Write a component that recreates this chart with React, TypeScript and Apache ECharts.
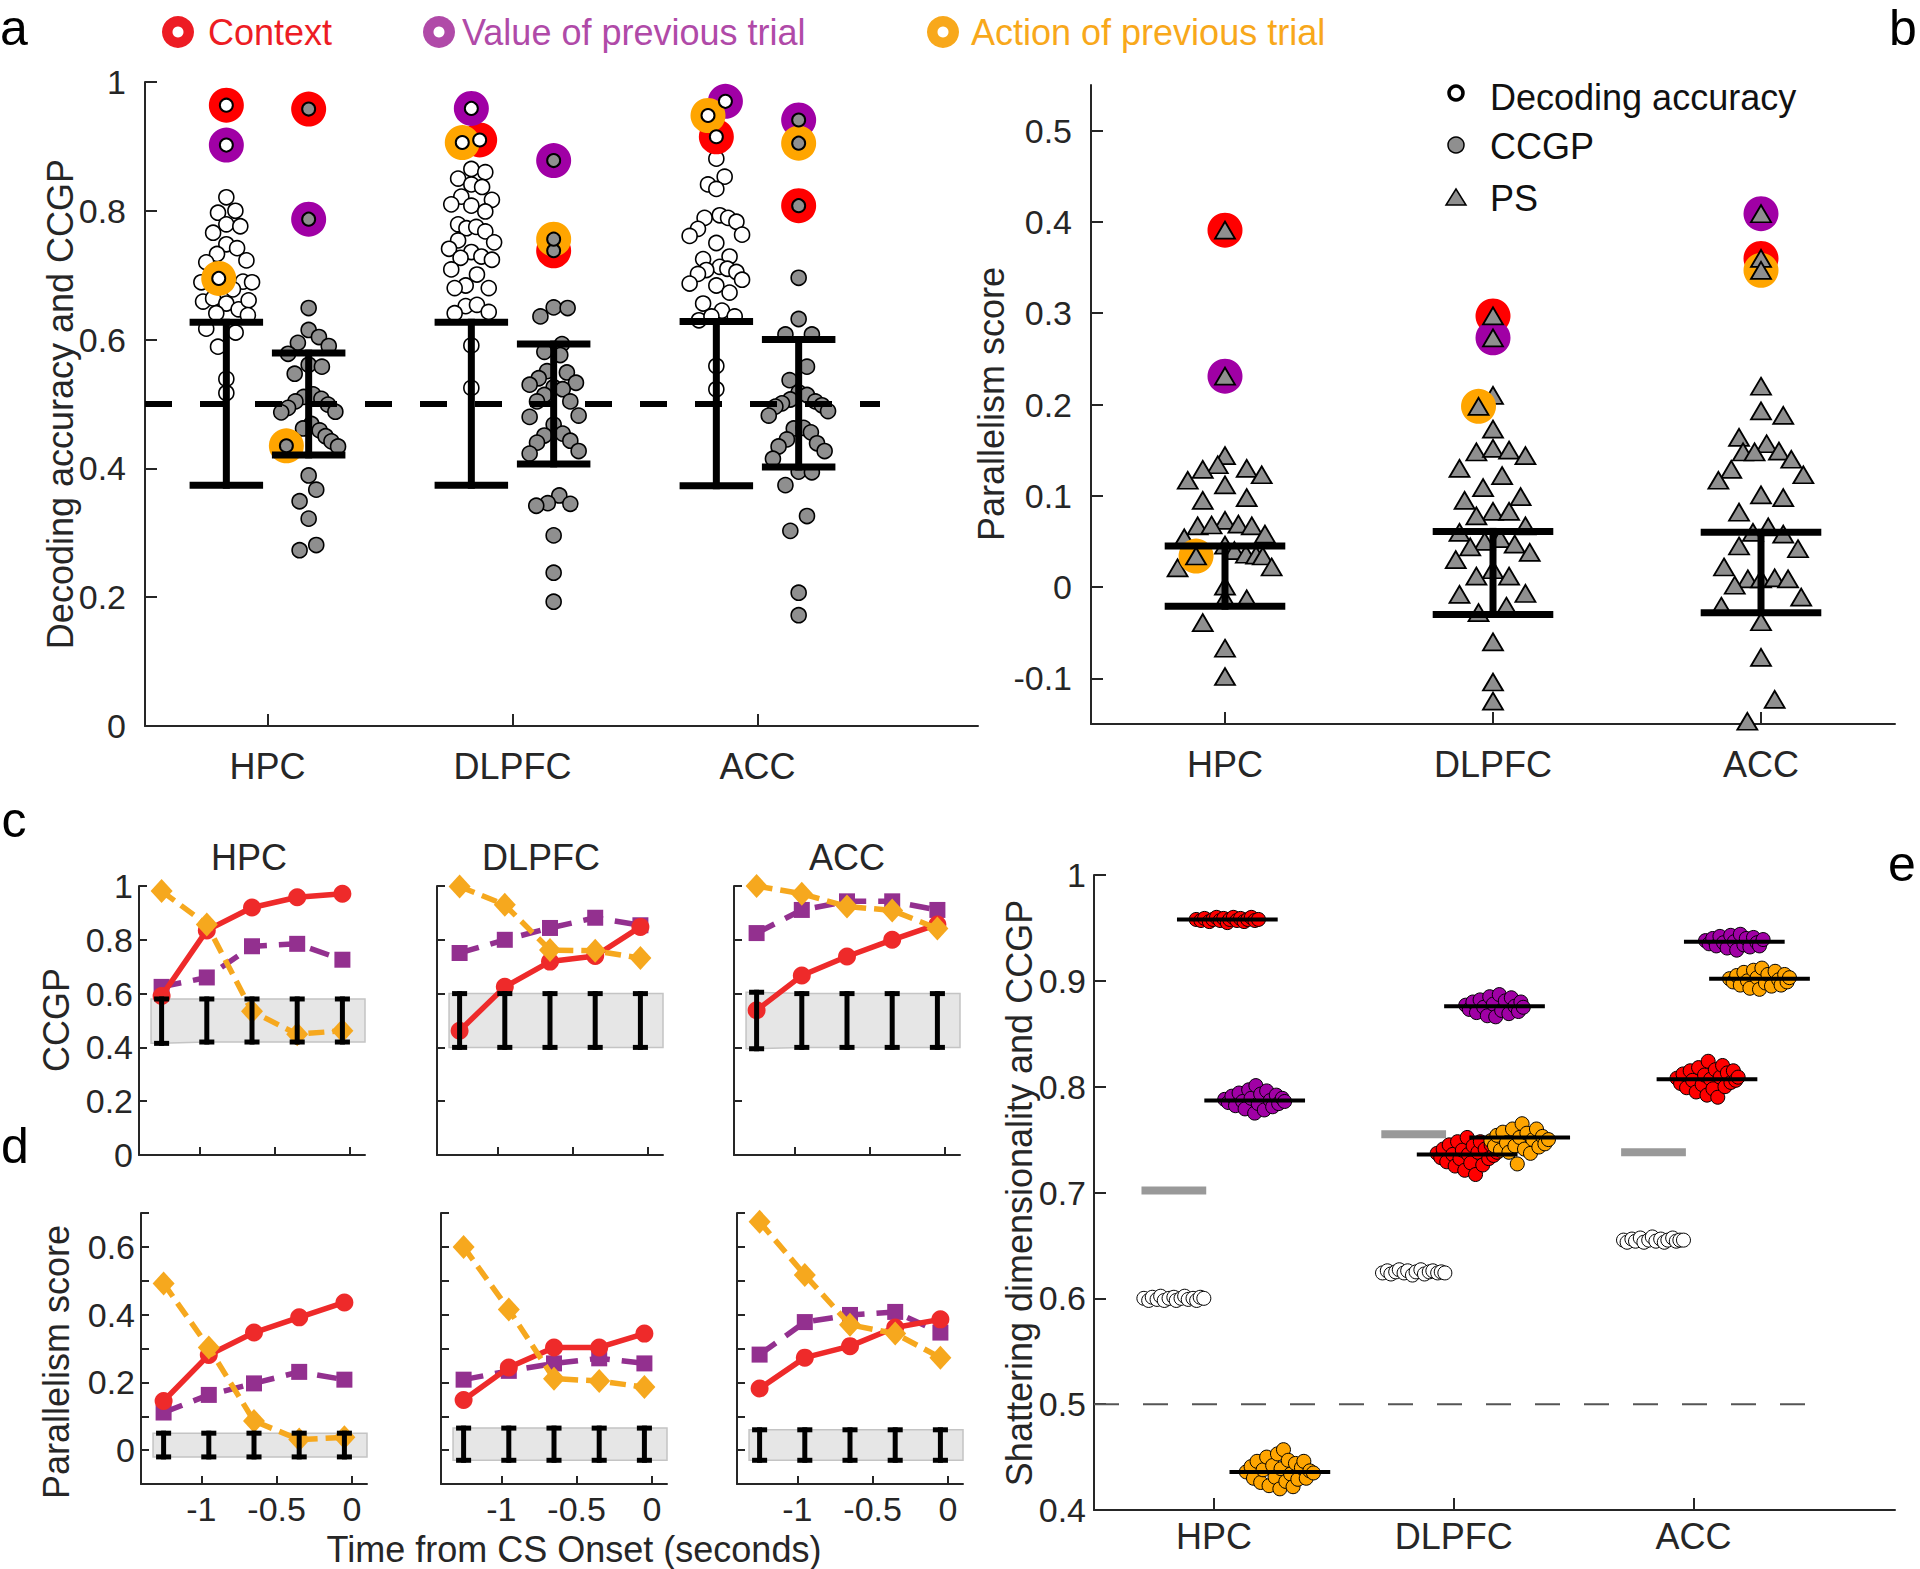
import React, { useEffect, useRef } from "react";
import * as echarts from "echarts";

const regions = ["HPC", "DLPFC", "ACC"];

// ---------- panel a: individual dichotomies, [offset within column, value]
const aDecHPC = [[0,0.821],[-0.034,0.797],[0.037,0.800],[0,0.779],[0.057,0.776],[-0.054,0.766],[0,0.748],[0.044,0.742],[-0.038,0.733],[-0.082,0.720],[0.082,0.723],[-0.102,0.689],[0.068,0.690],[0.105,0.689],[0.027,0.678],[-0.095,0.659],[-0.054,0.664],[0,0.656],[0.05,0.647],[0.091,0.661],[-0.041,0.641],[0.088,0.638],[-0.082,0.617],[0.038,0.611],[-0.034,0.589],[0,0.539],[0,0.517]];
const aDecDLPFC = [[0,0.865],[0.057,0.860],[-0.054,0.850],[0,0.841],[0.044,0.837],[-0.041,0.822],[0.084,0.817],[-0.082,0.810],[0,0.808],[0.057,0.799],[-0.054,0.779],[-0.02,0.773],[0.02,0.775],[0.057,0.768],[-0.054,0.754],[0.093,0.751],[-0.091,0.741],[0,0.736],[0.041,0.729],[-0.044,0.727],[0.084,0.724],[-0.082,0.709],[0.023,0.701],[-0.023,0.684],[-0.068,0.680],[0.071,0.680],[-0.023,0.652],[0.023,0.654],[-0.068,0.641],[0.071,0.643],[0,0.591],[0,0.525]];
const aDecACC = [[0,0.881],[0.034,0.853],[-0.034,0.841],[0,0.834],[0.014,0.793],[-0.048,0.789],[0.048,0.789],[0.082,0.783],[-0.075,0.772],[-0.109,0.761],[0.105,0.763],[0,0.750],[-0.054,0.725],[0.054,0.729],[0.014,0.713],[-0.041,0.708],[0.045,0.710],[0.082,0.705],[-0.075,0.702],[0.105,0.693],[-0.109,0.687],[0,0.684],[0.054,0.673],[-0.054,0.656],[0.023,0.645],[-0.071,0.630],[-0.02,0.636],[0.075,0.636],[0,0.559],[0,0.523]];
const aCcgpHPC = [[0,0.649],[0,0.615],[0.042,0.604],[-0.044,0.595],[0.082,0.590],[-0.084,0.578],[0,0.561],[0.054,0.558],[-0.057,0.547],[0.018,0.515],[-0.02,0.511],[0.052,0.508],[-0.054,0.504],[0.079,0.499],[-0.084,0.494],[0.109,0.488],[-0.112,0.487],[0.011,0.469],[-0.023,0.462],[0.045,0.459],[0.069,0.450],[0.093,0.442],[0.12,0.434],[0,0.389],[0.031,0.367],[-0.037,0.349],[0,0.322],[-0.037,0.273],[0.031,0.281]];
const aCcgpDLPFC = [[-0.054,0.636],[0,0.650],[0.057,0.649],[0.034,0.593],[-0.038,0.581],[0.027,0.576],[-0.027,0.551],[0.054,0.549],[-0.061,0.540],[-0.098,0.530],[0.091,0.533],[0,0.526],[0.037,0.523],[-0.038,0.514],[-0.068,0.504],[0.068,0.504],[-0.098,0.480],[0.102,0.482],[0,0.468],[0.037,0.454],[-0.038,0.451],[0.068,0.443],[-0.068,0.440],[0.102,0.427],[-0.098,0.423],[0.023,0.358],[-0.024,0.346],[0.068,0.345],[-0.071,0.342],[0,0.296],[0,0.238],[0,0.193]];
const aCcgpACC = [[0,0.696],[0,0.632],[-0.054,0.608],[0.054,0.608],[0.034,0.558],[-0.037,0.537],[0,0.518],[0.034,0.514],[-0.034,0.507],[-0.068,0.501],[-0.095,0.496],[0.068,0.504],[0.095,0.498],[-0.122,0.482],[0.12,0.489],[-0.02,0.462],[0.02,0.463],[0.05,0.456],[-0.048,0.445],[0.075,0.439],[-0.082,0.434],[0.106,0.427],[-0.105,0.415],[0,0.395],[0.054,0.394],[-0.054,0.374],[0.034,0.326],[-0.034,0.303],[0,0.207],[0,0.172]];
// highlighted variables, one entry per region (HPC, DLPFC, ACC)
const aDecContext = [[0,0.964],[0.034,0.910],[0,0.915]];
const aDecValue = [[0,0.902],[0,0.959],[0.037,0.970]];
const aDecAction = [[-0.031,0.695],[-0.037,0.906],[-0.034,0.948]];
const aCcgpContext = [[0,0.958],[0,0.738],[0,0.808]];
const aCcgpValue = [[0,0.787],[0,0.878],[0,0.941]];
const aCcgpAction = [[-0.091,0.435],[0,0.756],[0,0.905]];
const aDecNullLow = [0.374, 0.374, 0.373];
const aDecNullHigh = [0.627, 0.627, 0.628];
const aCcgpNullLow = [0.421, 0.407, 0.402];
const aCcgpNullHigh = [0.579, 0.593, 0.600];

// ---------- panel b: parallelism score
const bPsHPC = [[0,0.144],[-0.027,0.134],[-0.083,0.129],[0.081,0.130],[0.137,0.123],[-0.139,0.117],[0,0.112],[-0.083,0.095],[0.081,0.098],[0,0.073],[-0.102,0.067],[-0.05,0.068],[0.05,0.069],[0.1,0.067],[0.149,0.058],[-0.152,0.054],[0,0.046],[0.035,0.040],[0.078,0.036],[0.116,0.035],[0.141,0.034],[-0.177,0.021],[0.174,0.022],[0,0.001],[0,-0.013],[0.081,-0.013],[-0.083,-0.039],[0,-0.067],[0,-0.098]];
const bPsDLPFC = [[0,0.210],[0,0.173],[-0.062,0.148],[0,0.152],[0.06,0.150],[0.121,0.144],[-0.125,0.130],[0.034,0.122],[-0.037,0.109],[-0.106,0.095],[0.103,0.099],[0,0.083],[0.06,0.083],[-0.062,0.078],[0.121,0.067],[-0.125,0.060],[0.027,0.053],[-0.031,0.050],[0.081,0.047],[-0.085,0.044],[0.137,0.038],[-0.139,0.030],[0,0.019],[-0.062,0.012],[0.06,0.012],[-0.125,-0.008],[0.121,-0.007],[0.05,-0.021],[-0.054,-0.028],[0,-0.060],[0,-0.104],[0,-0.125]];
const bPsACC = [[0,0.220],[0,0.193],[0.083,0.188],[-0.082,0.164],[0.021,0.157],[-0.067,0.148],[-0.024,0.148],[0.067,0.149],[0.113,0.140],[-0.111,0.129],[-0.159,0.117],[0.158,0.123],[0,0.101],[0.083,0.098],[-0.082,0.082],[-0.03,0.060],[0.027,0.066],[0.083,0.058],[-0.082,0.045],[0.138,0.042],[-0.138,0.022],[-0.049,0.009],[0,0.009],[0.051,0.010],[0.101,0.009],[-0.098,0.002],[0.15,-0.011],[-0.148,-0.021],[0,-0.038],[0,-0.077],[0.051,-0.123],[-0.051,-0.147]];
const bContext = [[0,0.391],[0,0.297],[0,0.360]];
const bValue = [[0,0.231],[0,0.273],[0,0.409]];
const bAction = [[-0.108,0.034],[-0.054,0.198],[0,0.347]];
const bNullLow = [-0.021, -0.030, -0.028];
const bNullHigh = [0.045, 0.061, 0.060];

// ---------- panels c, d: time course
const timePoints = [-1.25, -0.95, -0.65, -0.35, -0.05];
const cContext = [[0.591,0.835,0.920,0.958,0.971],[0.462,0.625,0.719,0.740,0.848],[0.538,0.667,0.738,0.800,0.857]];
const cValue = [[0.625,0.660,0.776,0.785,0.726],[0.751,0.800,0.844,0.882,0.854],[0.825,0.911,0.943,0.943,0.911]];
const cAction = [[0.981,0.857,0.534,0.449,0.462],[0.998,0.930,0.762,0.759,0.732],[1.0,0.971,0.924,0.909,0.842]];
const cNullHigh = [[0.58,0.58,0.58,0.58,0.58],[0.6,0.6,0.6,0.6,0.6],[0.605,0.6,0.6,0.6,0.6]];
const cNullLow = [[0.415,0.42,0.42,0.42,0.42],[0.4,0.4,0.4,0.4,0.4],[0.395,0.4,0.4,0.4,0.4]];
const dContext = [[0.145,0.281,0.347,0.392,0.436],[0.148,0.244,0.303,0.303,0.344],[0.182,0.273,0.307,0.362,0.386]];
const dValue = [[0.111,0.163,0.197,0.231,0.208],[0.208,0.234,0.256,0.271,0.256],[0.282,0.378,0.399,0.408,0.347]];
const dAction = [[0.492,0.303,0.086,0.031,0.038],[0.600,0.415,0.211,0.204,0.186],[0.674,0.517,0.370,0.344,0.273]];
const dNullHigh = [[0.05,0.05,0.05,0.05,0.05],[0.065,0.065,0.065,0.065,0.065],[0.06,0.06,0.06,0.06,0.06]];
const dNullLow = [[-0.02,-0.02,-0.02,-0.02,-0.02],[-0.03,-0.03,-0.03,-0.03,-0.03],[-0.03,-0.03,-0.03,-0.03,-0.03]];

// ---------- panel e: shattering dimensionality (white) and CCGP clusters, [offset within cluster, value]
const eSdHPC = [[-0.125,0.600],[-0.105,0.598],[-0.09,0.601],[-0.07,0.599],[-0.055,0.602],[-0.04,0.598],[-0.02,0.600],[0,0.601],[0.01,0.598],[0.03,0.600],[0.045,0.602],[0.06,0.599],[0.08,0.600],[0.095,0.598],[0.11,0.601],[0.125,0.600]];
const eSdDLPFC = [[-0.13,0.624],[-0.11,0.626],[-0.095,0.623],[-0.075,0.625],[-0.06,0.627],[-0.04,0.624],[-0.025,0.626],[-0.005,0.622],[0.01,0.625],[0.03,0.627],[0.045,0.623],[0.065,0.625],[0.08,0.626],[0.1,0.624],[0.115,0.625],[0.13,0.624]];
const eSdACC = [[-0.125,0.655],[-0.11,0.653],[-0.09,0.656],[-0.075,0.654],[-0.055,0.657],[-0.04,0.653],[-0.02,0.655],[-0.005,0.658],[0.01,0.654],[0.03,0.656],[0.045,0.653],[0.06,0.655],[0.08,0.657],[0.095,0.654],[0.11,0.655],[0.125,0.655]];
const eContextHPC = [[-0.13,0.958],[-0.11,0.957],[-0.095,0.959],[-0.075,0.956],[-0.06,0.958],[-0.045,0.960],[-0.03,0.957],[-0.015,0.959],[0,0.955],[0.01,0.958],[0.025,0.960],[0.04,0.957],[0.055,0.959],[0.07,0.956],[0.085,0.958],[0.1,0.960],[0.115,0.957],[0.13,0.958]];
const eContextDLPFC = [[-0.125,0.737],[-0.11,0.733],[-0.1,0.741],[-0.085,0.729],[-0.075,0.745],[-0.06,0.736],[-0.05,0.725],[-0.04,0.748],[-0.03,0.732],[-0.02,0.740],[-0.01,0.721],[0,0.752],[0.005,0.736],[0.015,0.728],[0.025,0.744],[0.035,0.717],[0.045,0.738],[0.055,0.748],[0.065,0.726],[0.075,0.741],[0.09,0.732],[0.1,0.745],[0.11,0.735],[0.125,0.738]];
const eContextACC = [[-0.125,0.808],[-0.11,0.803],[-0.1,0.812],[-0.085,0.799],[-0.07,0.815],[-0.06,0.806],[-0.045,0.795],[-0.035,0.818],[-0.02,0.802],[-0.01,0.811],[0,0.792],[0.005,0.824],[0.015,0.807],[0.025,0.798],[0.035,0.816],[0.045,0.790],[0.055,0.809],[0.065,0.820],[0.075,0.800],[0.085,0.813],[0.1,0.804],[0.11,0.815],[0.12,0.806],[0.13,0.809]];
const eValueHPC = [[-0.125,0.788],[-0.11,0.785],[-0.095,0.791],[-0.08,0.782],[-0.065,0.794],[-0.05,0.786],[-0.04,0.779],[-0.025,0.797],[-0.015,0.789],[0,0.775],[0.005,0.801],[0.015,0.784],[0.025,0.793],[0.04,0.778],[0.05,0.796],[0.065,0.787],[0.075,0.781],[0.09,0.792],[0.1,0.784],[0.115,0.789],[0.125,0.786]];
const eValueDLPFC = [[-0.12,0.877],[-0.105,0.873],[-0.09,0.880],[-0.075,0.870],[-0.06,0.882],[-0.045,0.875],[-0.03,0.867],[-0.02,0.885],[-0.005,0.878],[0.005,0.866],[0.02,0.887],[0.03,0.872],[0.045,0.881],[0.06,0.869],[0.07,0.884],[0.085,0.876],[0.1,0.871],[0.11,0.880],[0.12,0.875]];
const eValueACC = [[-0.12,0.938],[-0.105,0.935],[-0.09,0.940],[-0.075,0.933],[-0.06,0.942],[-0.045,0.936],[-0.03,0.931],[-0.015,0.943],[0,0.937],[0.01,0.929],[0.025,0.944],[0.04,0.934],[0.05,0.940],[0.065,0.932],[0.08,0.941],[0.095,0.936],[0.105,0.933],[0.12,0.939]];
const eActionHPC = [[-0.14,0.436],[-0.12,0.441],[-0.11,0.430],[-0.095,0.446],[-0.08,0.426],[-0.07,0.438],[-0.055,0.450],[-0.045,0.423],[-0.03,0.442],[-0.02,0.431],[-0.01,0.453],[0,0.420],[0.005,0.439],[0.015,0.457],[0.025,0.427],[0.035,0.447],[0.045,0.434],[0.055,0.422],[0.065,0.444],[0.075,0.429],[0.09,0.440],[0.1,0.446],[0.11,0.430],[0.125,0.437],[0.14,0.435]];
const eActionDLPFC = [[-0.12,0.749],[-0.105,0.744],[-0.095,0.754],[-0.08,0.740],[-0.07,0.757],[-0.055,0.747],[-0.045,0.738],[-0.03,0.760],[-0.02,0.744],[-0.01,0.727],[0,0.752],[0.01,0.765],[0.02,0.741],[0.03,0.756],[0.045,0.737],[0.055,0.750],[0.07,0.760],[0.08,0.743],[0.095,0.753],[0.105,0.746],[0.12,0.750]];
const eActionACC = [[-0.125,0.902],[-0.11,0.899],[-0.095,0.905],[-0.08,0.896],[-0.065,0.908],[-0.05,0.900],[-0.04,0.893],[-0.025,0.910],[-0.01,0.903],[0,0.892],[0.01,0.912],[0.025,0.898],[0.035,0.906],[0.05,0.895],[0.065,0.909],[0.08,0.901],[0.09,0.896],[0.105,0.906],[0.115,0.899],[0.125,0.903]];
const eCcgpGray = [0.702, 0.755, 0.738];
const eContextMean = [0.958, 0.736, 0.807];
const eValueMean = [0.787, 0.876, 0.937];
const eActionMean = [0.436, 0.752, 0.902];

// ---------- styling constants
const FONT = '"Liberation Sans", Arial, Helvetica, sans-serif';
const TXT = "#262626";
const RED = "#ff0000";
const PURPLE = "#a000a5";
const ORANGE = "#ffa500";
const GRAY = "#8f8f8f";
const L_RED = "#ee2a2a";
const L_PURPLE = "#93308f";
const L_ORANGE = "#f6a81e";
const OFF_A = 0.168;
const CAP_A = 0.15;
const CAP_B = 0.225;
const CAP_T = 0.05;
const BAND_START = -1.32;
const BAND_END = 0.1;
const E_OFF = { sd: -0.167, context: 0.056, value: 0.17, action: 0.275 };
const E_MEAN_HALF = 0.21;
const E_BAR_HALF = 0.135;

function scatter(gi: number, data: number[][], size: any, fill: string, border: string, bw: number, z: number, symbol = "circle") {
  return {
    type: "scatter", xAxisIndex: gi, yAxisIndex: gi, data, symbol, symbolSize: size,
    itemStyle: { color: fill, borderColor: border, borderWidth: bw, opacity: 1 },
    silent: true, z, clip: false,
  };
}

function errorBars(gi: number, rows: number[][], halfW: number, lw: number, z: number) {
  return {
    type: "custom", xAxisIndex: gi, yAxisIndex: gi, silent: true, z, data: rows,
    encode: { x: 0, y: [1, 2] },
    renderItem: (_p: any, api: any) => {
      const x = api.value(0), lo = api.value(1), hi = api.value(2);
      const b = api.coord([x, lo]);
      const t = api.coord([x, hi]);
      const l = api.coord([x - halfW, lo]);
      const r = api.coord([x + halfW, lo]);
      const h = (r[0] - l[0]) / 2;
      const style = { stroke: "#000", lineWidth: lw };
      return {
        type: "group",
        children: [
          { type: "line", shape: { x1: b[0], y1: b[1] + lw / 2, x2: t[0], y2: t[1] - lw / 2 }, style },
          { type: "line", shape: { x1: b[0] - h, y1: b[1], x2: b[0] + h, y2: b[1] }, style },
          { type: "line", shape: { x1: t[0] - h, y1: t[1], x2: t[0] + h, y2: t[1] }, style },
        ],
      };
    },
  };
}

function hSeg(gi: number, rows: number[][], color: string, lw: number, z: number, dash?: number[]) {
  return {
    type: "custom", xAxisIndex: gi, yAxisIndex: gi, silent: true, z, data: rows,
    encode: { x: [0, 1], y: 2 },
    renderItem: (_p: any, api: any) => {
      const a = api.coord([api.value(0), api.value(2)]);
      const b = api.coord([api.value(1), api.value(2)]);
      return { type: "line", shape: { x1: a[0], y1: a[1], x2: b[0], y2: b[1] }, style: { stroke: color, lineWidth: lw, lineDash: dash || null } };
    },
  };
}

function band(gi: number, lows: number[], highs: number[], z: number) {
  return {
    type: "custom", xAxisIndex: gi, yAxisIndex: gi, silent: true, z,
    data: [[timePoints[0], lows[0], highs[0]]],
    encode: { x: 0, y: [1, 2] },
    renderItem: (_p: any, api: any) => {
      const n = timePoints.length;
      const up = [[BAND_START, highs[0]], ...timePoints.map((t, i) => [t, highs[i]]), [BAND_END, highs[n - 1]]];
      const dn = [[BAND_END, lows[n - 1]], ...timePoints.map((t, i) => [t, lows[i]]).reverse(), [BAND_START, lows[0]]];
      const points = [...up, ...dn].map((p) => api.coord(p));
      return { type: "polygon", shape: { points }, style: { fill: "#e6e6e6", stroke: "#c4c4c4", lineWidth: 1.5 } };
    },
  };
}

function lineSeries(gi: number, vals: number[], color: string, symbol: string, size: any, dash: any, z: number) {
  return {
    type: "line", xAxisIndex: gi, yAxisIndex: gi, silent: true, z, clip: false,
    data: timePoints.map((t, i) => [t, vals[i]]),
    symbol, symbolSize: size, showSymbol: true,
    lineStyle: { color, width: 5.5, type: dash },
    itemStyle: { color, borderWidth: 0 },
  };
}

function txt(text: string, x: number, y: number, o: any = {}) {
  const align = o.align || "center";
  return {
    type: "text", x, y, rotation: o.rot || 0, silent: true, z: 100,
    style: {
      text, fill: o.color || TXT, font: `${o.size || 36}px ${FONT}`,
      textAlign: align, align, textVerticalAlign: "middle", verticalAlign: "middle",
    },
  };
}

function buildOption() {
  const axisLine = { show: true, onZero: false, lineStyle: { color: TXT, width: 2 } };
  const tick = (len = 10) => ({ show: true, inside: true, length: len, lineStyle: { color: TXT, width: 2 } });
  const lab = { color: TXT, fontFamily: FONT, fontSize: 34 };
  const catLab = { color: TXT, fontFamily: FONT, fontSize: 36 };
  const catFmt = (v: number) => regions[Math.round(v) - 1] || "";
  const numFmt = (v: number) => String(Math.round(v * 100) / 100);

  const grid = [
    { left: 145, top: 82, width: 833, height: 644 },
    { left: 1091, top: 85, width: 804, height: 639 },
    { left: 139, top: 886, width: 226, height: 269 },
    { left: 437, top: 886, width: 226, height: 269 },
    { left: 734, top: 886, width: 226, height: 269 },
    { left: 141, top: 1213, width: 226, height: 271 },
    { left: 441, top: 1213, width: 226, height: 271 },
    { left: 737, top: 1213, width: 226, height: 271 },
    { left: 1094, top: 875, width: 801, height: 635 },
  ];

  const xAxis: any[] = [];
  const yAxis: any[] = [];
  const catX = (gi: number, max: number) => ({
    gridIndex: gi, type: "value", min: 0.5, max, axisLine,
    axisTick: { ...tick(12), customValues: [1, 2, 3] },
    axisLabel: { ...catLab, customValues: [1, 2, 3], formatter: catFmt, margin: gi === 8 ? 8 : 22 },
    splitLine: { show: false },
  });
  xAxis.push(catX(0, 3.9));
  xAxis.push(catX(1, 3.5));
  for (let k = 0; k < 6; k++) {
    const gi = 2 + k;
    xAxis.push({
      gridIndex: gi, type: "value", min: -1.4, max: 0.1, axisLine,
      axisTick: { ...tick(8), customValues: [-1, -0.5, 0] },
      axisLabel: { ...lab, show: k >= 3, customValues: [-1, -0.5, 0], formatter: numFmt, margin: 8 },
      splitLine: { show: false },
    });
  }
  xAxis.push(catX(8, 3.84));

  yAxis.push({
    gridIndex: 0, type: "value", min: 0, max: 1, interval: 0.2, axisLine, axisTick: tick(12),
    axisLabel: { ...lab, margin: 19, formatter: numFmt, showMinLabel: true, showMaxLabel: true }, splitLine: { show: false },
  });
  const bTicks = [-0.1, 0, 0.1, 0.2, 0.3, 0.4, 0.5];
  yAxis.push({
    gridIndex: 1, type: "value", min: -0.15, max: 0.55, axisLine,
    axisTick: { ...tick(12), customValues: bTicks },
    axisLabel: { ...lab, margin: 19, customValues: bTicks, formatter: numFmt }, splitLine: { show: false },
  });
  for (let k = 0; k < 3; k++) {
    yAxis.push({
      gridIndex: 2 + k, type: "value", min: 0, max: 1, interval: 0.2, axisLine, axisTick: tick(8),
      axisLabel: { ...lab, show: k === 0, margin: 6, formatter: numFmt, showMinLabel: true, showMaxLabel: true }, splitLine: { show: false },
    });
  }
  for (let k = 0; k < 3; k++) {
    yAxis.push({
      gridIndex: 5 + k, type: "value", min: -0.1, max: 0.7, interval: 0.1, axisLine, axisTick: tick(8),
      axisLabel: {
        ...lab, show: k === 0, margin: 6, showMinLabel: true, showMaxLabel: true,
        formatter: (v: number) => { const q = Math.round(v * 10); return q >= 0 && q % 2 === 0 ? String(q / 10) : ""; },
      },
      splitLine: { show: false },
    });
  }
  yAxis.push({
    gridIndex: 8, type: "value", min: 0.4, max: 1, interval: 0.1, axisLine, axisTick: tick(12),
    axisLabel: { ...lab, margin: 8, formatter: numFmt, showMinLabel: true, showMaxLabel: true }, splitLine: { show: false },
  });

  const series: any[] = [];

  // ----- panel a
  const place = (lists: number[][][], off: number) =>
    lists.flatMap((arr, r) => arr.map(([d, v]) => [r + 1 + off + d, v]));
  const placeOne = (arr: number[][], off: number) => arr.map(([d, v], r) => [r + 1 + off + d, v]);
  series.push(scatter(0, place([aDecHPC, aDecDLPFC, aDecACC], -OFF_A), 15, "#ffffff", "#000", 1.6, 2));
  series.push(scatter(0, place([aCcgpHPC, aCcgpDLPFC, aCcgpACC], OFF_A), 15, GRAY, "#000", 1.6, 2));
  series.push(scatter(0, [...placeOne(aDecContext, -OFF_A), ...placeOne(aCcgpContext, OFF_A)], 35, RED, RED, 0, 3));
  series.push(scatter(0, [...placeOne(aDecValue, -OFF_A), ...placeOne(aCcgpValue, OFF_A)], 35, PURPLE, PURPLE, 0, 3));
  series.push(scatter(0, [...placeOne(aDecAction, -OFF_A), ...placeOne(aCcgpAction, OFF_A)], 35, ORANGE, ORANGE, 0, 3));
  series.push(scatter(0, [...placeOne(aDecContext, -OFF_A), ...placeOne(aDecValue, -OFF_A), ...placeOne(aDecAction, -OFF_A)], 13, "#ffffff", "#000", 2, 4));
  series.push(scatter(0, [...placeOne(aCcgpContext, OFF_A), ...placeOne(aCcgpValue, OFF_A), ...placeOne(aCcgpAction, OFF_A)], 13, GRAY, "#000", 2, 4));
  series.push(errorBars(0, regions.map((_, r) => [r + 1 - OFF_A, aDecNullLow[r], aDecNullHigh[r]]), CAP_A, 7, 5));
  series.push(errorBars(0, regions.map((_, r) => [r + 1 + OFF_A, aCcgpNullLow[r], aCcgpNullHigh[r]]), CAP_A, 7, 5));
  series.push(hSeg(0, [[0.5, 3.5, 0.5]], "#000", 6, 6, [27, 28]));

  // ----- panel b
  const tri = [20, 17];
  series.push(scatter(1, place([bPsHPC, bPsDLPFC, bPsACC], 0), tri, GRAY, "#000", 1.8, 2, "triangle"));
  series.push(scatter(1, placeOne(bContext, 0), 35, RED, RED, 0, 3));
  series.push(scatter(1, placeOne(bValue, 0), 35, PURPLE, PURPLE, 0, 3));
  series.push(scatter(1, placeOne(bAction, 0), 35, ORANGE, ORANGE, 0, 3));
  series.push(scatter(1, [...placeOne(bContext, 0), ...placeOne(bValue, 0), ...placeOne(bAction, 0)], tri, GRAY, "#000", 1.8, 4, "triangle"));
  series.push(errorBars(1, regions.map((_, r) => [r + 1, bNullLow[r], bNullHigh[r]]), CAP_B, 7, 5));

  // ----- panels c, d
  for (let r = 0; r < 3; r++) {
    const gc = 2 + r, gd = 5 + r;
    series.push(band(gc, cNullLow[r], cNullHigh[r], 1));
    series.push(lineSeries(gc, cValue[r], L_PURPLE, "rect", 16, [20, 12], 2));
    series.push(lineSeries(gc, cContext[r], L_RED, "circle", 18, "solid", 3));
    series.push(lineSeries(gc, cAction[r], L_ORANGE, "diamond", [22, 24], [16, 8], 4));
    series.push(errorBars(gc, timePoints.map((t, i) => [t, cNullLow[r][i], cNullHigh[r][i]]), CAP_T, 5, 5));
    series.push(band(gd, dNullLow[r], dNullHigh[r], 1));
    series.push(lineSeries(gd, dValue[r], L_PURPLE, "rect", 16, [20, 12], 2));
    series.push(lineSeries(gd, dContext[r], L_RED, "circle", 18, "solid", 3));
    series.push(lineSeries(gd, dAction[r], L_ORANGE, "diamond", [22, 24], [16, 8], 4));
    series.push(errorBars(gd, timePoints.map((t, i) => [t, dNullLow[r][i], dNullHigh[r][i]]), CAP_T, 5, 5));
  }

  // ----- panel e
  series.push(hSeg(8, [[0.5, 3.5, 0.5]], "#555", 2, 1, [25, 24]));
  series.push(hSeg(8, eCcgpGray.map((v, r) => [r + 1 + E_OFF.sd - E_BAR_HALF, r + 1 + E_OFF.sd + E_BAR_HALF, v]), "#999999", 8, 2));
  series.push(scatter(8, place([eSdHPC, eSdDLPFC, eSdACC], E_OFF.sd), 14, "#ffffff", "#000", 1, 3));
  series.push(scatter(8, place([eContextHPC, eContextDLPFC, eContextACC], E_OFF.context), 14, RED, "#000", 1, 4));
  series.push(scatter(8, place([eValueHPC, eValueDLPFC, eValueACC], E_OFF.value), 14, PURPLE, "#000", 1, 4));
  series.push(scatter(8, place([eActionHPC, eActionDLPFC, eActionACC], E_OFF.action), 14, ORANGE, "#000", 1, 4));
  const meanRows = (means: number[], off: number) => means.map((v, r) => [r + 1 + off - E_MEAN_HALF, r + 1 + off + E_MEAN_HALF, v]);
  series.push(hSeg(8, [...meanRows(eContextMean, E_OFF.context), ...meanRows(eValueMean, E_OFF.value), ...meanRows(eActionMean, E_OFF.action)], "#000", 4, 5));

  // ----- texts and legends
  const graphic: any[] = [
    txt("a", 14, 28, { size: 50, color: "#000" }),
    txt("b", 1903, 28, { size: 50, color: "#000" }),
    txt("c", 14, 820, { size: 50, color: "#000" }),
    txt("d", 15, 1146, { size: 50, color: "#000" }),
    txt("e", 1902, 864, { size: 50, color: "#000" }),
    txt("Decoding accuracy and CCGP", 60, 404, { rot: Math.PI / 2 }),
    txt("Parallelism score", 991, 404, { rot: Math.PI / 2 }),
    txt("CCGP", 56, 1020, { rot: Math.PI / 2 }),
    txt("Parallelism score", 56, 1362, { rot: Math.PI / 2 }),
    txt("Shattering dimensionality and CCGP", 1019, 1193, { rot: Math.PI / 2 }),
    txt("Time from CS Onset (seconds)", 574, 1549),
    txt("HPC", 249, 857),
    txt("DLPFC", 541, 857),
    txt("ACC", 847, 857),
    // top legend
    { type: "circle", shape: { cx: 178, cy: 32, r: 16 }, style: { fill: "#ed1c24" }, silent: true },
    { type: "circle", shape: { cx: 178, cy: 32, r: 5.5 }, style: { fill: "#fff" }, silent: true },
    txt("Context", 208, 32, { align: "left", color: "#ed1c24" }),
    { type: "circle", shape: { cx: 439, cy: 32, r: 16 }, style: { fill: "#b04aa8" }, silent: true },
    { type: "circle", shape: { cx: 439, cy: 32, r: 5.5 }, style: { fill: "#fff" }, silent: true },
    txt("Value of previous trial", 462, 32, { align: "left", color: "#b04aa8" }),
    { type: "circle", shape: { cx: 943, cy: 32, r: 16 }, style: { fill: "#f8a81b" }, silent: true },
    { type: "circle", shape: { cx: 943, cy: 32, r: 5.5 }, style: { fill: "#fff" }, silent: true },
    txt("Action of previous trial", 971, 32, { align: "left", color: "#f8a81b" }),
    // panel b legend
    { type: "circle", shape: { cx: 1456, cy: 93, r: 7 }, style: { fill: "#fff", stroke: "#000", lineWidth: 3.5 }, silent: true },
    txt("Decoding accuracy", 1490, 97, { align: "left", color: "#111" }),
    { type: "circle", shape: { cx: 1456, cy: 145, r: 8 }, style: { fill: GRAY, stroke: "#000", lineWidth: 1.5 }, silent: true },
    txt("CCGP", 1490, 146, { align: "left", color: "#111" }),
    { type: "polygon", shape: { points: [[1446, 205], [1466, 205], [1456, 189]] }, style: { fill: GRAY, stroke: "#000", lineWidth: 1.5 }, silent: true },
    txt("PS", 1490, 198, { align: "left", color: "#111" }),
  ];

  return { animation: false, backgroundColor: "#fff", grid, xAxis, yAxis, series, graphic };
}

export default function App() {
  const ref = useRef<HTMLDivElement>(null);
  useEffect(() => {
    document.body.style.margin = "0";
    const chart = echarts.init(ref.current!, null, { renderer: "svg" });
    chart.setOption(buildOption() as any);
    return () => chart.dispose();
  }, []);
  return <div ref={ref} style={{ width: 1920, height: 1569 }} />;
}
